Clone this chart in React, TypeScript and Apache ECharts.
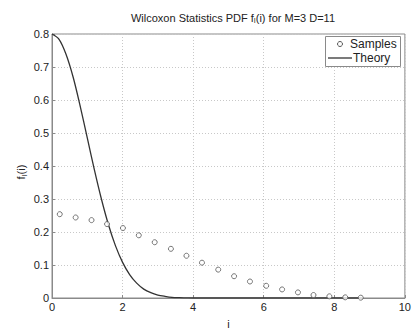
import React, { useEffect, useRef } from "react";
import * as echarts from "echarts";

const sampleX = [0.22, 0.67, 1.12, 1.56, 2.01, 2.46, 2.91, 3.37, 3.81, 4.25, 4.71, 5.16, 5.61, 6.07, 6.52, 6.97, 7.41, 7.86, 8.31, 8.75];
const sampleY = [0.254, 0.244, 0.236, 0.224, 0.212, 0.19, 0.169, 0.149, 0.128, 0.107, 0.086, 0.066, 0.05, 0.037, 0.026, 0.017, 0.009, 0.005, 0.002, 0.001];
const theoryX = [0, 0.2, 0.4, 0.6, 0.8, 1.0, 1.2, 1.4, 1.6, 1.8, 2.0, 2.2, 2.4, 2.6, 2.8, 3.0, 3.2, 3.4, 3.6, 3.8, 4.0, 6.0, 8.0, 8.8];
const theoryY = [0.8, 0.784, 0.738, 0.669, 0.581, 0.485, 0.389, 0.3, 0.222, 0.158, 0.108, 0.071, 0.045, 0.027, 0.016, 0.009, 0.005, 0.002, 0.001, 0.0005, 0, 0, 0, 0];
const legendNames = ["Samples", "Theory"];

const FONT = "Liberation Sans";

export default function App() {
  const ref = useRef<HTMLDivElement>(null);
  useEffect(() => {
    const chart = echarts.init(ref.current!, undefined, { renderer: "svg" });
    const gridL = 52, gridR = 9, gridT = 34, gridB = 24;
    chart.setOption({
      animation: false,
      backgroundColor: "#fff",
      title: {
        text: "Wilcoxon Statistics PDF f{s|I}(i) for M=3 D=11",
        left: 228,
        textAlign: "center",
        top: 6,
        textStyle: {
          fontFamily: FONT,
          fontSize: 11,
          fontWeight: "normal",
          color: "#222",
          rich: { s: { fontFamily: FONT, fontSize: 7, color: "#222", padding: [6, 0, 0, 0] } },
        },
      },
      grid: { left: gridL, right: gridR, top: gridT, bottom: gridB, show: true, borderColor: "#8a8a8a", borderWidth: 1, backgroundColor: "transparent" },
      xAxis: {
        type: "value",
        min: 0,
        max: 10,
        interval: 2,
        name: "i",
        nameLocation: "middle",
        nameGap: 20,
        nameTextStyle: { fontFamily: FONT, fontSize: 11, color: "#222" },
        axisLine: { show: true, lineStyle: { color: "#8a8a8a" } },
        axisTick: { show: true, inside: true, length: 3, lineStyle: { color: "#8a8a8a" } },
        axisLabel: { fontFamily: FONT, fontSize: 11, color: "#222", margin: 3 },
        splitLine: { show: true, lineStyle: { color: "#c8c8c8", type: [1, 2], width: 1 } },
      },
      yAxis: {
        type: "value",
        min: 0,
        max: 0.8,
        interval: 0.1,
        axisLine: { show: true, lineStyle: { color: "#8a8a8a" } },
        axisTick: { show: true, inside: true, length: 3, lineStyle: { color: "#8a8a8a" } },
        axisLabel: { fontFamily: FONT, fontSize: 11, color: "#222", margin: 3, formatter: (v: number) => (v === 0 ? "0" : String(Math.round(v * 10) / 10)) },
        splitLine: { show: true, lineStyle: { color: "#c8c8c8", type: [1, 2], width: 1 } },
      },
      series: [
        {
          name: legendNames[0],
          type: "scatter",
          symbol: "circle",
          symbolSize: 5,
          itemStyle: { color: "#fff", borderColor: "#555", borderWidth: 1 },
          data: sampleX.map((x, i) => [x, sampleY[i]]),
          z: 5,
        },
        {
          name: legendNames[1],
          type: "line",
          showSymbol: false,
          symbol: "none",
          smooth: 0.3,
          lineStyle: { color: "#333", width: 1.3 },
          data: theoryX.map((x, i) => [x, theoryY[i]]),
          z: 4,
        },
      ],
      graphic: [
        {
          type: "text",
          x: 21,
          y: 172,
          rotation: Math.PI / 2,
          style: {
            text: "{a|f}{s|I}{a|(i)}",
            align: "center",
            verticalAlign: "middle",
            fontFamily: FONT,
            fontSize: 11,
            fill: "#222",
            rich: {
              a: { fontFamily: FONT, fontSize: 11, fill: "#222" },
              s: { fontFamily: FONT, fontSize: 7, fill: "#222", padding: [6, 0, 0, 0] },
            },
          },
        },
        { type: "rect", shape: { x: 325.5, y: 36.5, width: 75, height: 30 }, style: { fill: "#fff", stroke: "#8a8a8a", lineWidth: 1 }, z: 10 },
        { type: "circle", shape: { cx: 340, cy: 44, r: 2.5 }, style: { fill: "#fff", stroke: "#555", lineWidth: 1 }, z: 11 },
        { type: "text", x: 350, y: 44, style: { text: legendNames[0], fontFamily: FONT, fontSize: 12, fill: "#222", verticalAlign: "middle" }, z: 11 },
        { type: "line", shape: { x1: 328, y1: 58, x2: 352, y2: 58 }, style: { stroke: "#333", lineWidth: 1.3 }, z: 11 },
        { type: "text", x: 353, y: 58, style: { text: legendNames[1], fontFamily: FONT, fontSize: 12, fill: "#222", verticalAlign: "middle" }, z: 11 },
      ],
    });
    return () => chart.dispose();
  }, []);
  return <div ref={ref} style={{ width: 414, height: 334, position: "absolute", left: 0, top: 0 }} />;
}
